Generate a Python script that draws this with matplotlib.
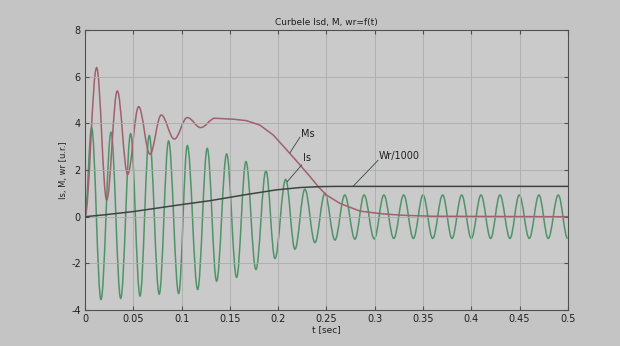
import matplotlib
matplotlib.use("Agg")
import matplotlib.pyplot as plt
from matplotlib.path import Path
from matplotlib.patches import PathPatch

plt.rcParams["axes.unicode_minus"] = False

# Is: start point, then alternating peaks / troughs (t [sec], value)
is_t = [0.0, 0.0069, 0.0166, 0.027, 0.037, 0.0473, 0.057, 0.0666, 0.0769,
        0.0866, 0.097, 0.106, 0.1167, 0.1266, 0.1363, 0.1467, 0.157, 0.1667,
        0.177, 0.1874, 0.1967, 0.2078, 0.2174, 0.2277, 0.2381, 0.2484, 0.2588,
        0.269, 0.2795, 0.289, 0.2995, 0.3095, 0.3197, 0.33, 0.34, 0.35, 0.36,
        0.3703, 0.38, 0.39, 0.40, 0.41, 0.42, 0.4296, 0.44, 0.4496, 0.46,
        0.47, 0.4796, 0.49, 0.4997]
is_y = [0.0, 3.82, -3.55, 3.62, -3.50, 3.56, -3.40, 3.48, -3.32,
        3.25, -3.29, 3.05, -3.12, 2.93, -2.76, 2.69, -2.60, 2.36,
        -2.26, 1.97, -1.79, 1.60, -1.39, 1.18, -1.11, 1.00, -1.00,
        0.93, -0.96, 0.93, -0.95, 0.93, -0.93, 0.93, -0.93, 0.93, -0.93,
        0.93, -0.93, 0.93, -0.93, 0.93, -0.93, 0.93, -0.93, 0.93, -0.93,
        0.93, -0.93, 0.93, -0.93]

# Ms: oscillating start (extrema), then slow decay
ms_osc_t = [0.0, 0.0121, 0.0225, 0.0335, 0.0442, 0.0556, 0.0673, 0.079,
            0.0925, 0.106, 0.1198, 0.1346]
ms_osc_y = [0.0, 6.39, 0.72, 5.39, 1.82, 4.72, 2.68, 4.36, 3.33, 4.25, 3.82, 4.22]
ms_t = [0.1346, 0.1535, 0.167, 0.181, 0.195, 0.209, 0.2226, 0.233, 0.2415,
        0.25, 0.264, 0.2847, 0.3085, 0.33, 0.36, 0.5]
ms_y = [4.22, 4.18, 4.12, 3.93, 3.50, 2.86, 2.22, 1.72, 1.29,
        0.93, 0.57, 0.24, 0.12, 0.06, 0.02, 0.0]

# Wr/1000
wr_t = [0.0, 0.02, 0.05, 0.08, 0.1, 0.13, 0.164, 0.198, 0.2226, 0.243, 0.26, 0.5]
wr_y = [0.0, 0.08, 0.22, 0.40, 0.52, 0.69, 0.93, 1.15, 1.25, 1.29, 1.30, 1.30]


def extrema_path(t, y, k=0.364):
    # cubic bezier between extrema, flat tangent at each one
    verts = [(t[0], y[0])]
    codes = [Path.MOVETO]
    for i in range(1, len(t)):
        dt = t[i] - t[i - 1]
        verts += [(t[i - 1] + k * dt, y[i - 1]), (t[i] - k * dt, y[i]), (t[i], y[i])]
        codes += [Path.CURVE4] * 3
    return Path(verts, codes)


fig = plt.figure(figsize=(6.2, 3.46), dpi=100, facecolor="#c4c4c4")
ax = fig.add_axes([0.137, 0.104, 0.779, 0.809], facecolor="#cacaca")

green = "#4f9468"
red = "#a0606c"
dark = "#3c4640"

ax.add_patch(PathPatch(extrema_path(is_t, is_y), fill=False, edgecolor=green, lw=1.1))
ax.add_patch(PathPatch(extrema_path(ms_osc_t, ms_osc_y), fill=False, edgecolor=red, lw=1.1))
ax.plot(ms_t, ms_y, color=red, lw=1.1)
ax.plot(wr_t, wr_y, color=dark, lw=1.1)

# labels with leader lines
ax.plot([0.2226, 0.2122], [3.41, 2.74], color=dark, lw=0.6)
ax.plot([0.2244, 0.2094], [2.22, 1.50], color=dark, lw=0.6)
ax.plot([0.3035, 0.2777], [2.42, 1.31], color=dark, lw=0.6)
ax.text(0.2235, 3.55, "Ms", fontsize=7, va="center", color="#202020")
ax.text(0.2255, 2.53, "Is", fontsize=7, va="center", color="#202020")
ax.text(0.3045, 2.60, "Wr/1000", fontsize=7, va="center", color="#202020")

ax.set_xlim(0, 0.5)
ax.set_ylim(-4, 8)
ax.set_xticks([0, 0.05, 0.1, 0.15, 0.2, 0.25, 0.3, 0.35, 0.4, 0.45, 0.5])
ax.set_xticklabels(["0", "0.05", "0.1", "0.15", "0.2", "0.25", "0.3", "0.35", "0.4", "0.45", "0.5"])
ax.set_yticks([-4, -2, 0, 2, 4, 6, 8])
ax.grid(True, color="#acacac", lw=0.6)
ax.tick_params(direction="in", top=True, right=True, labelsize=7, length=3,
               color="#505050", labelcolor="#202020", pad=3)
for s in ax.spines.values():
    s.set_color("#505050")
    s.set_linewidth(0.8)

ax.set_title("Curbele Isd, M, wr=f(t)", fontsize=6.5, color="#202020", pad=4)
ax.set_xlabel("t [sec]", fontsize=6.5, color="#202020", labelpad=1)
ax.set_ylabel("Is, M, wr [u.r.]", fontsize=6, color="#202020", labelpad=2)

fig.savefig("out.png", dpi=100, facecolor=fig.get_facecolor())
